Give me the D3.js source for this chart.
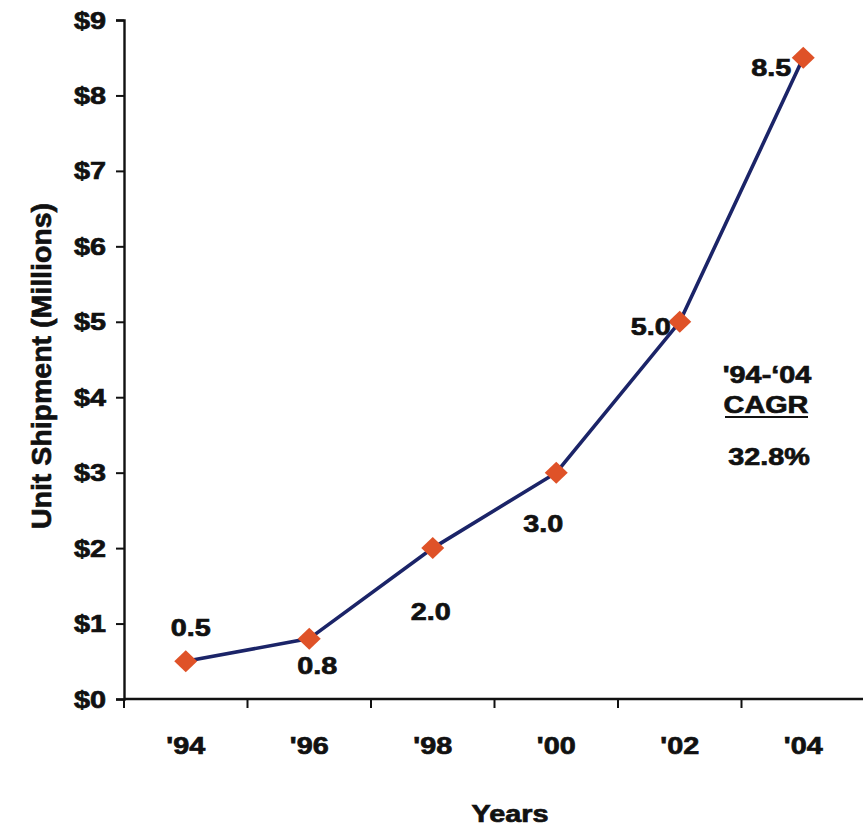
<!DOCTYPE html>
<html>
<head>
<meta charset="utf-8">
<script src="https://cdn.jsdelivr.net/npm/d3@7"></script>
<style>
  html, body { margin: 0; padding: 0; background: #fff; }
  svg { display: block; }
  text { font-family: "Liberation Sans", Arial, sans-serif; font-weight: bold; fill: #111; stroke: #111; stroke-width: 0.7px; }
</style>
</head>
<body>
<svg id="chart" width="863" height="828"></svg>
<script>
// Unit shipments per year (millions)
const years = ["'94", "'96", "'98", "'00", "'02", "'04"];
const shipments = [0.5, 0.8, 2.0, 3.0, 5.0, 8.5];
const yTickValues = [0, 1, 2, 3, 4, 5, 6, 7, 8, 9];
const yTickLabels = ["$0", "$1", "$2", "$3", "$4", "$5", "$6", "$7", "$8", "$9"];
const cagrLines = ["'94-\u201804", "CAGR", "32.8%"];

const svg = d3.select("#chart");
const W = 863, H = 828;
const margin = { left: 124, right: -2, top: 20, bottom: 129 };
const FS = 24, SX = 1.2;   // horizontal text: size and width stretch

const x = d3.scaleBand().domain(years).range([margin.left, W - margin.right]).padding(0);
const y = d3.scaleLinear().domain([0, 9]).range([H - margin.bottom, margin.top]);

// stretched horizontal label helper
function label(g, tx, ty, str, anchor) {
  return g.append("text")
    .attr("transform", `translate(${tx},${ty}) scale(${SX},1)`)
    .attr("text-anchor", anchor || "middle")
    .attr("font-size", FS)
    .text(str);
}

// Y axis
const yAxis = svg.append("g")
  .attr("transform", `translate(${margin.left},0)`)
  .call(d3.axisLeft(y).tickValues(yTickValues).tickSize(8).tickFormat(""));
yAxis.select(".domain").attr("stroke", "#111").attr("stroke-width", 2.4);
yAxis.selectAll(".tick line").attr("stroke", "#111").attr("stroke-width", 2);
yTickValues.forEach((v, i) => {
  label(svg, 106, y(v) + 8.5, yTickLabels[i], "end");
});

// X axis: ticks at band boundaries, labels at band centres
const xBottom = y(0);
svg.append("line")
  .attr("x1", margin.left).attr("x2", W)
  .attr("y1", xBottom).attr("y2", xBottom)
  .attr("stroke", "#111").attr("stroke-width", 2.4);
svg.append("g").selectAll("line")
  .data(years)
  .join("line")
  .attr("x1", d => x(d)).attr("x2", d => x(d))
  .attr("y1", xBottom).attr("y2", xBottom + 9)
  .attr("stroke", "#111").attr("stroke-width", 2);
years.forEach(yr => {
  label(svg, x(yr) + x.bandwidth() / 2, 754, yr);
});

// Axis titles
label(svg, 510, 822, "Years");
svg.append("text")
  .attr("transform", `translate(51,366) rotate(-90)`)
  .attr("text-anchor", "middle")
  .attr("font-size", 28.5)
  .text("Unit Shipment (Millions)");

// Line series
const pts = years.map((yr, i) => ({ yr, v: shipments[i] }));
const cx = d => x(d.yr) + x.bandwidth() / 2;
svg.append("path")
  .datum(pts)
  .attr("fill", "none")
  .attr("stroke", "#1b2468")
  .attr("stroke-width", 3.6)
  .attr("d", d3.line().x(cx).y(d => y(d.v)));

// Diamond markers
svg.append("g").selectAll("path")
  .data(pts)
  .join("path")
  .attr("transform", d => `translate(${cx(d)},${y(d.v)})`)
  .attr("d", "M0,-11L11.5,0L0,11L-11.5,0Z")
  .attr("fill", "#df5228");

// Value labels, offset from their markers
const labelOffsets = [[5, -25], [8, 35], [-2, 72], [-13, 59], [-29, 13], [-32, 18]];
pts.forEach((d, i) => {
  label(svg, cx(d) + labelOffsets[i][0], y(d.v) + labelOffsets[i][1], d.v.toFixed(1));
});

// CAGR note
label(svg, 767, 383, cagrLines[0]);
label(svg, 766, 413, cagrLines[1]);
svg.append("line")
  .attr("x1", 725).attr("x2", 808)
  .attr("y1", 417).attr("y2", 417)
  .attr("stroke", "#111").attr("stroke-width", 2.2);
label(svg, 769, 465, cagrLines[2]);
</script>
</body>
</html>
